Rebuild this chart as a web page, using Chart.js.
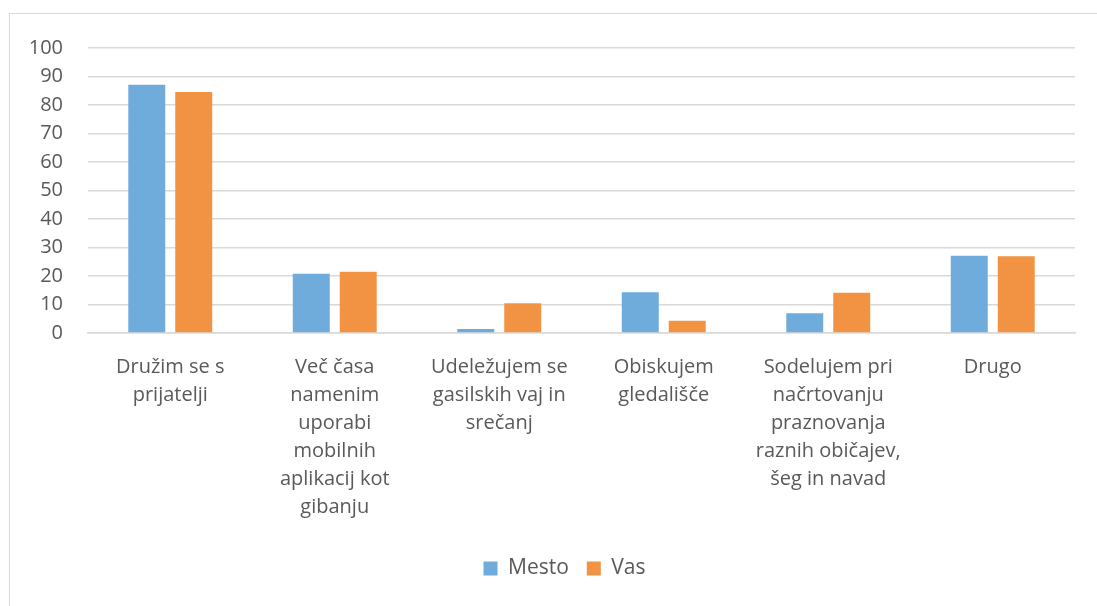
<!DOCTYPE html>
<html lang="sl">
<head>
    <meta charset="UTF-8">
    <title>Mesto / Vas</title>
    <script src="https://cdn.jsdelivr.net/npm/chart.js@4.4.1/dist/chart.umd.min.js"></script>
    <style>
        html, body { margin: 0; padding: 0; background: #fff; }
        #wrap { position: relative; width: 1097px; height: 606px; overflow: hidden; }
        #frame {
            position: absolute; left: 9px; top: 13px; width: 1200px; height: 700px;
            border: 1px solid #d9d9d9; box-sizing: border-box;
        }
        canvas { position: absolute; left: 0; top: 0; }
    </style>
</head>
<body>
    <div id="wrap">
        <div id="frame"></div>
        <canvas id="chart" width="1097" height="606"></canvas>
    </div>

    <script>
        // Kategorije (oznake po vrsticah, kot v izvirniku)
        const categories = [
            ["Družim se s", "prijatelji"],
            ["Več časa", "namenim", "uporabi", "mobilnih", "aplikacij kot", "gibanju"],
            ["Udeležujem se", "gasilskih vaj in", "srečanj"],
            ["Obiskujem", "gledališče"],
            ["Sodelujem pri", "načrtovanju", "praznovanja", "raznih običajev,", "šeg in navad"],
            ["Drugo"]
        ];
        const mesto = [87.1, 20.8, 1.4, 14.3, 6.9, 27.1];
        const vas = [84.6, 21.5, 10.4, 4.3, 14.1, 26.9];
        const yTicks = [0, 10, 20, 30, 40, 50, 60, 70, 80, 90, 100];

        const font = "'Open Sans', sans-serif";
        const textColor = '#595959';

        // legenda je v izvirniku malo bolj desno
        const legendShift = {
            id: 'legendShift',
            beforeDraw(chart) {
                if (chart.legend) {
                    chart.legend.left += 27;
                    chart.legend.right += 27;
                }
            },
            afterDraw(chart) {
                if (chart.legend) {
                    chart.legend.left -= 27;
                    chart.legend.right -= 27;
                }
            }
        };

        new Chart(document.getElementById('chart'), {
            type: 'bar',
            data: {
                labels: categories,
                datasets: [
                    { label: 'Mesto', data: mesto, backgroundColor: '#6facdc' },
                    { label: 'Vas', data: vas, backgroundColor: '#f29343' }
                ]
            },
            options: {
                responsive: false,
                animation: false,
                datasets: {
                    bar: { categoryPercentage: 0.571, barPercentage: 0.787 }
                },
                layout: { padding: { top: 48, right: 22, left: 0, bottom: 17 } },
                plugins: {
                    tooltip: { enabled: false },
                    legend: {
                        position: 'bottom',
                        labels: {
                            boxWidth: 14, boxHeight: 14, padding: 18,
                            color: textColor,
                            font: { family: font, size: 21 }
                        }
                    }
                },
                scales: {
                    x: {
                        grid: { display: false },
                        border: { color: '#d9d9d9', width: 1.5 },
                        ticks: {
                            color: textColor, padding: 12, maxRotation: 0, autoSkip: false,
                            font: { family: font, size: 20, lineHeight: 1.4 }
                        },
                        afterFit: s => { s.height = 207; }
                    },
                    y: {
                        min: 0, max: 100,
                        afterBuildTicks: s => { s.ticks = yTicks.map(v => ({ value: v })); },
                        grid: { color: '#d9d9d9', lineWidth: 1.5, drawTicks: false },
                        border: { display: false },
                        ticks: {
                            color: textColor, padding: 25,
                            font: { family: font, size: 20 }
                        },
                        afterFit: s => { s.width = 88; }
                    }
                }
            },
            plugins: [legendShift]
        });
    </script>
</body>
</html>
